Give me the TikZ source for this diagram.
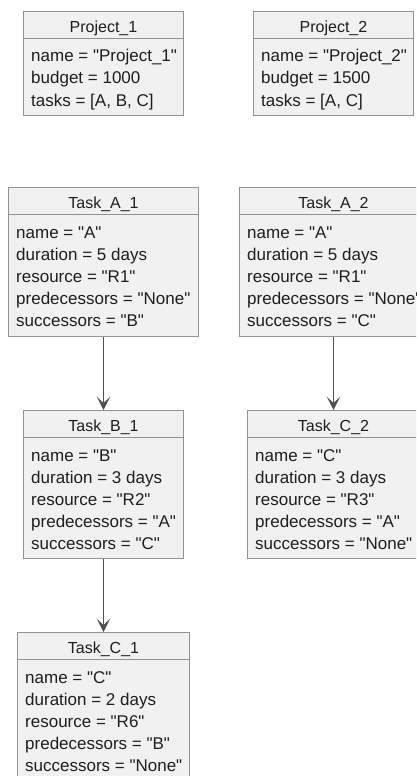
\documentclass[tikz,border=0pt]{standalone}
\usepackage{fontspec}
\setmainfont{Liberation Sans}[Ligatures=TeXOff]
\usetikzlibrary{arrows.meta}
\definecolor{boxfill}{HTML}{F1F1F1}
\definecolor{boxline}{HTML}{929292}
\definecolor{arrowc}{HTML}{505050}
\definecolor{txt}{HTML}{1E1E1E}
\newcommand\dq{\char34\relax}
\newcommand\umlobj[7]{%
  \node[objbox, minimum width=#4pt, minimum height=#5pt] (#1) at (#2,#3) {};
  \draw[sepline] ([yshift=-27.5pt]#1.north west) -- ([yshift=-27.5pt]#1.north east);
  \node[objtitle] (#1-t) at ([yshift=-21.5pt]#1.north) {#6};
  \foreach \l [count=\i] in {#7} {
    \node[objbody] (#1-\i) at ([xshift=8pt, yshift={-51pt-22pt*(\i-1)}]#1.north west) {\l};
  }
}
\begin{document}
\begin{tikzpicture}[x=1pt,y=-1pt,
  objbox/.style={draw=boxline, fill=boxfill, line width=1pt, anchor=north west, inner sep=0pt, rectangle},
  sepline/.style={draw=boxline, line width=1pt},
  objtitle/.style={font=\fontsize{16}{19}\selectfont, text=txt, inner sep=0pt, anchor=base},
  objbody/.style={font=\fontsize{17}{22}\selectfont, text=txt, inner sep=0pt, anchor=base west},
  conn/.style={draw=arrowc, line width=1.4pt, -{Stealth[length=13pt,width=13pt,inset=6pt]}}]
\useasboundingbox (0,0) rectangle (416,776);
\clip (0,0) rectangle (416,776);
\fill[white] (0,0) rectangle (416,776);

\umlobj{P1}{23}{11}{160}{104}{Project\_1}{{name = \dq Project\_1\dq},{budget = 1000},{tasks = [A, B, C]}}
\umlobj{P2}{253}{11}{160}{104}{Project\_2}{{name = \dq Project\_2\dq},{budget = 1500},{tasks = [A, C]}}
\umlobj{A1}{8}{187}{190}{149}{Task\_A\_1}{{name = \dq A\dq},{duration = 5 days},{resource = \dq R1\dq},{predecessors = \dq None\dq},{successors = \dq B\dq}}
\umlobj{A2}{239}{187}{188}{149}{Task\_A\_2}{{name = \dq A\dq},{duration = 5 days},{resource = \dq R1\dq},{predecessors = \dq None\dq},{successors = \dq C\dq}}
\umlobj{B1}{23}{410}{160}{148}{Task\_B\_1}{{name = \dq B\dq},{duration = 3 days},{resource = \dq R2\dq},{predecessors = \dq A\dq},{successors = \dq C\dq}}
\umlobj{C2}{247}{410}{172}{148}{Task\_C\_2}{{name = \dq C\dq},{duration = 3 days},{resource = \dq R3\dq},{predecessors = \dq A\dq},{successors = \dq None\dq}}
\umlobj{C1}{17}{632}{172}{150}{Task\_C\_1}{{name = \dq C\dq},{duration = 2 days},{resource = \dq R6\dq},{predecessors = \dq B\dq},{successors = \dq None\dq}}

\draw[conn] (A1.south) -- (B1.north);
\draw[conn] (B1.south) -- (C1.north);
\draw[conn] (A2.south) -- (C2.north);
\end{tikzpicture}
\end{document}
